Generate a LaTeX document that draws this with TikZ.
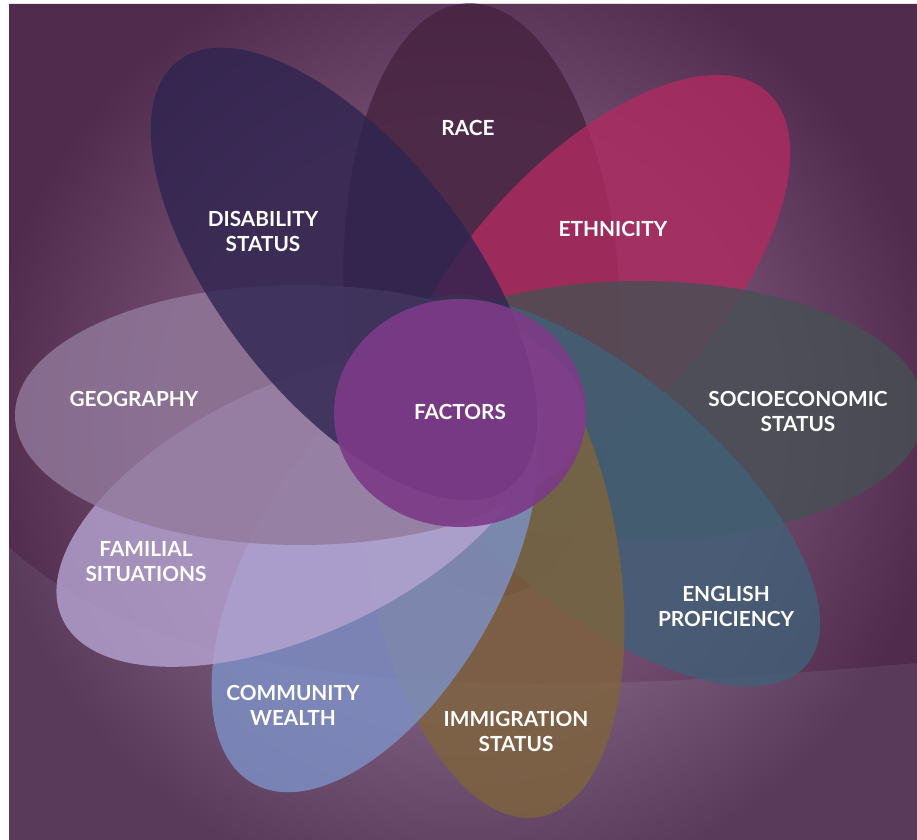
\documentclass[tikz,border=0pt]{standalone}
\usepackage{fontspec}
\setmainfont{Lato}
\usepackage{tikz}
\usetikzlibrary{positioning}

\definecolor{bgdark}{RGB}{80,43,78}
\definecolor{bglow}{RGB}{90,58,90}
\definecolor{glow}{RGB}{215,195,220}
\definecolor{racecol}{RGB}{70,34,64}
\definecolor{ethcol}{RGB}{176,42,96}
\definecolor{sescol}{RGB}{70,80,83}
\definecolor{engcol}{RGB}{65,96,119}
\definecolor{immcol}{RGB}{127,100,60}
\definecolor{comcol}{RGB}{126,146,200}
\definecolor{famcol}{RGB}{182,164,210}
\definecolor{geocol}{RGB}{146,122,156}
\definecolor{discol}{RGB}{46,36,80}
\definecolor{ctrcol}{RGB}{125,58,136}

\tikzset{
  petal/.style={opacity=0.8},
  lbl/.style={text=white, align=center, font=\fontsize{10.4}{12.5}\selectfont\bfseries},
}

\begin{document}
\begin{tikzpicture}[x=0.5pt, y=0.5pt]
\useasboundingbox (0,0) rectangle (917,840);
% Background
\fill[white] (0,0) rectangle (917,840);
\fill[bglow] (9,0) rectangle (917,836);
\fill[bgdark] (9,836) -- (917,836) -- (917,177) .. controls (600,150) and (200,120) .. (9,293) -- cycle;

% Soft halo round the flower
\begin{scope}
  \clip (9,0) rectangle (917,836);
  \foreach \r in {300,306,...,480}
    \fill[glow, opacity=0.012] (465,420) circle[radius=\r];
\end{scope}

% Petals, clockwise from the top
\fill[petal, racecol, rotate around={93:(482,540)}] (482,540) ellipse[x radius=297, y radius=138];
\fill[petal, ethcol, rotate around={48:(590,551)}] (590,551) ellipse[x radius=265, y radius=125];
\fill[petal, sescol] (640,429) ellipse[x radius=285, y radius=130];
\fill[petal, engcol, rotate around={-40:(600,349)}] (600,349) ellipse[x radius=270, y radius=117];
\fill[petal, immcol, rotate around={-80:(493,284)}] (493,284) ellipse[x radius=265, y radius=125];
\fill[petal, comcol, rotate around={-120:(375,269)}] (375,269) ellipse[x radius=245, y radius=125];
\fill[petal, famcol, rotate around={25:(298,331)}] (298,331) ellipse[x radius=260, y radius=125];
\fill[petal, geocol] (300,425) ellipse[x radius=285, y radius=130];
\fill[petal, discol, rotate around={128:(344,566)}] (344,566) ellipse[x radius=270, y radius=125];

% Centre
\fill[ctrcol, opacity=0.9] (460,427) ellipse[x radius=126, y radius=114];

% Labels
\node[lbl] (factors) at (460,428) {FACTORS};
\node[lbl] (race) at (468,712) {RACE};
\node[lbl] (ethnicity) at (613,611) {ETHNICITY};
\node[lbl] (socio) at (798,429) {SOCIOECONOMIC\\STATUS};
\node[lbl] (english) at (726,234) {ENGLISH\\PROFICIENCY};
\node[lbl] (immigration) at (516,109) {IMMIGRATION\\STATUS};
\node[lbl] (community) at (293,135) {COMMUNITY\\WEALTH};
\node[lbl] (familial) at (146,278) {FAMILIAL\\SITUATIONS};
\node[lbl] (geography) at (134,441) {GEOGRAPHY};
\node[lbl] (disability) at (263,609) {DISABILITY\\STATUS};
\end{tikzpicture}
\end{document}
